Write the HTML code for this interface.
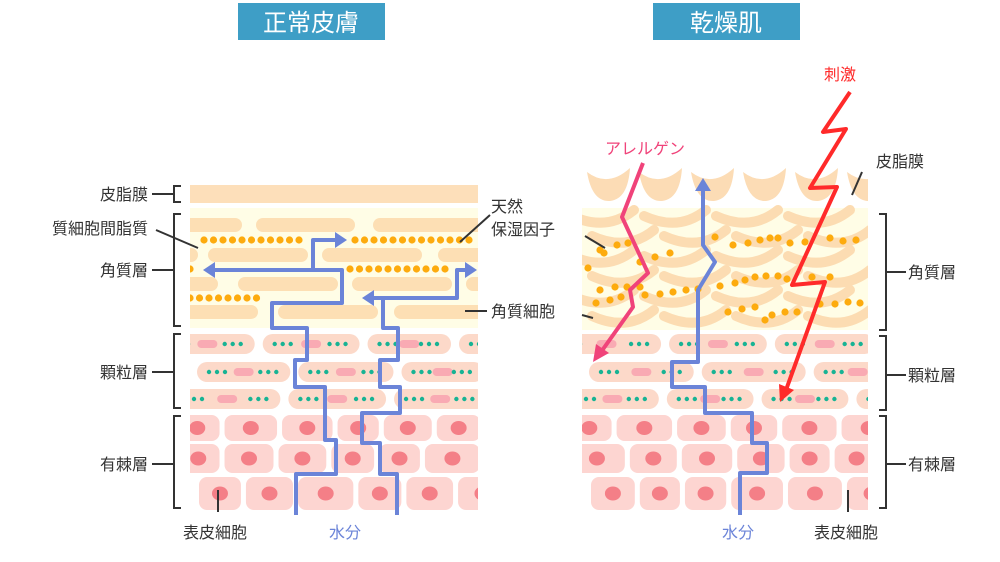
<!DOCTYPE html>
<html><head><meta charset="utf-8"><style>
html,body{margin:0;padding:0;background:#fff;width:1000px;height:562px;overflow:hidden}
svg{display:block}
text{font-family:"Liberation Sans","Noto Sans CJK JP",sans-serif;font-size:16px;fill:#333}
</style></head><body>
<svg id="s" width="1000" height="562" viewBox="0 0 1000 562" xmlns="http://www.w3.org/2000/svg">
<rect x="238" y="3" width="147" height="37" fill="#3e9ec6"/>
<text x="311" y="31" text-anchor="middle" style="fill:#fff;font-size:24px">正常皮膚</text>
<rect x="653" y="3" width="147" height="37" fill="#3e9ec6"/>
<text x="726" y="31" text-anchor="middle" style="fill:#fff;font-size:24px">乾燥肌</text>
<g id="L"></g>
<g id="R"></g>
<g id="fg"></g>
</svg>
<script>
const NS="http://www.w3.org/2000/svg";
function el(p,t,a,txt){const e=document.createElementNS(NS,t);for(const k in a)e.setAttribute(k,a[k]);if(txt)e.textContent=txt;p.appendChild(e);return e;}
const L=document.getElementById('L'),R=document.getElementById('R'),F=document.getElementById('fg');
let seed=7;function rnd(){seed=(seed*9301+49297)%233280;return seed/233280;}
const defs=el(document.getElementById('s'),'defs',{});
const c1=el(defs,'clipPath',{id:'cl'});el(c1,'rect',{x:190,y:180,width:288,height:335});
const c2=el(defs,'clipPath',{id:'cr'});el(c2,'rect',{x:582,y:160,width:286,height:355});
L.setAttribute('clip-path','url(#cl)');R.setAttribute('clip-path','url(#cr)');
function lower(g,x0){
 const gy=[344,372,399];
 gy.forEach((y,i)=>{let x=x0-20+((i*37)%60)-10;
  while(x<x0+300){const w=80+rnd()*30;
   el(g,'rect',{x:x,y:y-10,width:w,height:20,rx:10,fill:'#fcd9c9'});
   for(let d=0;d<3;d++)el(g,'circle',{cx:x+12+d*8,cy:y,r:2.2,fill:'#17b394'});
   el(g,'rect',{x:x+w/2-10,y:y-4,width:20,height:8,rx:4,fill:'#f9aab3'});
   for(let d=0;d<3;d++)el(g,'circle',{cx:x+w-30+d*8,cy:y,r:2.2,fill:'#17b394'});
   x+=w+8;}
 });
 const sy=[[415,441],[444,473],[477,510]];
 sy.forEach((r,i)=>{let x=x0-15+i*12-(i==1?10:0);
  while(x<x0+300){const w=40+rnd()*16;
   el(g,'rect',{x:x,y:r[0],width:w,height:r[1]-r[0],rx:8,fill:'#fdd5d1'});
   el(g,'ellipse',{cx:x+w/2,cy:(r[0]+r[1])/2,rx:8,ry:7,fill:'#f47f87'});
   x+=w+5;}
 });
}
el(L,'rect',{x:190,y:185,width:288,height:18,fill:'#fddfba'});
el(L,'rect',{x:190,y:208,width:288,height:120,fill:'#fffde6'});
[[218,[[180,242],[256,355],[373,500]]],[248,[[180,198],[208,308],[322,422],[438,500]]],[277,[[180,218],[238,338],[352,452],[466,500]]],[305,[[180,258],[278,378],[394,500]]]].forEach(r=>{
 r[1].forEach(s=>el(L,'rect',{x:s[0],y:r[0],width:s[1]-s[0],height:14,rx:7,fill:'#fddfb4'}));});
[[240,[[204,300],[355,478]]],[269,[[190,195],[350,448]]],[298,[[190,260]]]].forEach(r=>{
 r[1].forEach(s=>{for(let x=s[0];x<=s[1];x+=9.5)el(L,'circle',{cx:x,cy:r[0],r:3.6,fill:'#fdab0e'});});});
lower(L,190);
el(R,'rect',{x:582,y:208,width:286,height:122,fill:'#fffde6'});
for(let i=0;i<6;i++){const cx=608+i*52;el(R,'path',{d:`M${cx-21},172 Q${cx-16},202 ${cx+2},201 Q${cx+20},199 ${cx+22},168 Q${cx},188 ${cx-21},172Z`,fill:'#fcdcb5'});}
for(let row=0;row<6;row++){for(let c=0;c<4;c++){const x=582+c*72+(row%2)*20-10,y=216+row*20;
 el(R,'path',{d:`M${x},${y} Q${x+35},${y+16} ${x+62},${y-6}`,fill:'none',stroke:'#fcdcb2','stroke-width':10,'stroke-linecap':'round'});}}
[[[588,268],[600,250],[604,253],[617,245],[628,243]],[[600,290],[615,287],[627,287],[640,287]],[[640,262],[655,257],[670,253]],[[596,303],[610,300],[621,297]],[[645,295],[660,294],[673,292],[686,290],[698,289]],[[715,237],[733,245],[748,243],[760,240]],[[770,238],[778,238],[790,243],[805,242]],[[830,238],[843,241],[856,240]],[[720,286],[735,283],[745,280],[755,277],[766,276],[778,276],[787,279]],[[728,312],[742,309],[755,307]],[[765,320],[772,315],[785,312],[797,312]],[[812,277],[830,277]],[[820,304],[835,304],[848,302],[860,303]]].forEach(a=>a.forEach(p=>el(R,'circle',{cx:p[0],cy:p[1],r:3.6,fill:'#fdab0e'})));
seed=19;lower(R,582);
const B='#6b84d8';
function pl(d,c,w){el(F,'path',{d:d,fill:'none',stroke:c,'stroke-width':w||4,'stroke-linejoin':'round','stroke-linecap':'butt'});}
function ah(x,y,dir,c){const s=8;let d;
 if(dir=='l')d=`M${x},${y} L${x+12},${y-s} L${x+12},${y+s}Z`;
 if(dir=='r')d=`M${x},${y} L${x-12},${y-s} L${x-12},${y+s}Z`;
 if(dir=='u')d=`M${x},${y} L${x-s},${y+13} L${x+s},${y+13}Z`;
 el(F,'path',{d:d,fill:c});}
pl('M296,515V474H336V440H325V387H295V360H307V328H272V303H342V270H212',B);
pl('M313,270V240H336',B);ah(203,270,'l',B);ah(347,240,'r',B);
pl('M397,515V474H380V443H362V413H400V387H380V360H398V328H383V298',B);
pl('M372,298H457V270H466',B);ah(362,298,'l',B);ah(477,270,'r',B);
pl('M740,515V473H767V443H752V413H705V387H672V362H698V290L715,262L703,245V190',B);ah(703,178,'u',B);
pl('M643,163L622,217L648,273L630,290L633,307L601,352','#f0437a',4);
el(F,'path',{d:'M593,362L596,344L609,353Z',fill:'#f0437a'});
pl('M850,92L823,132L846,129L810,188L837,187L792,285L825,282L786,390','#ff2a2a',4);
el(F,'path',{d:'M780,402L779,384L794,390Z',fill:'#ff2a2a'});
const K='#333';
function ln(x1,y1,x2,y2){el(F,'line',{x1,y1,x2,y2,stroke:K,'stroke-width':2});}
function br(x,y1,y2,side){const d=side=='l'?7:-7;el(F,'path',{d:`M${x+d},${y1}H${x}V${y2}H${x+d}`,fill:'none',stroke:K,'stroke-width':2});}
br(174,186,202,'l');ln(152,194,174,194);
br(174,214,326,'l');ln(152,270,174,270);
br(174,334,408,'l');ln(152,372,174,372);
br(174,416,508,'l');ln(152,464,174,464);
br(886,214,330,'r');ln(886,272,906,272);
br(886,336,410,'r');ln(886,375,906,375);
br(886,416,508,'r');ln(886,464,906,464);
ln(156,230,198,248);ln(490,215,460,242);ln(465,311,487,311);
ln(585,236,605,248);ln(582,315,593,318);
ln(218,490,218,512);ln(848,490,848,512);ln(862,172,852,195);
function t(x,y,s,a,c){const e=el(F,'text',{x,y,'text-anchor':a||'start'},s);if(c)e.style.fill=c;}
t(148,200,'皮脂膜','end');t(148,234,'質細胞間脂質','end');t(148,276,'角質層','end');
t(148,378,'顆粒層','end');t(148,470,'有棘層','end');
t(491,212,'天然');t(491,235,'保湿因子');t(491,317,'角質細胞');
t(215,538,'表皮細胞','middle');t(345,538,'水分','middle','#6b84d8');t(738,538,'水分','middle','#6b84d8');
t(846,538,'表皮細胞','middle');t(908,278,'角質層');t(908,381,'顆粒層');t(908,470,'有棘層');
t(876,167,'皮脂膜');t(645,154,'アレルゲン','middle','#f0437a');t(840,80,'刺激','middle','#ff2a2a');
</script>
</body></html>
